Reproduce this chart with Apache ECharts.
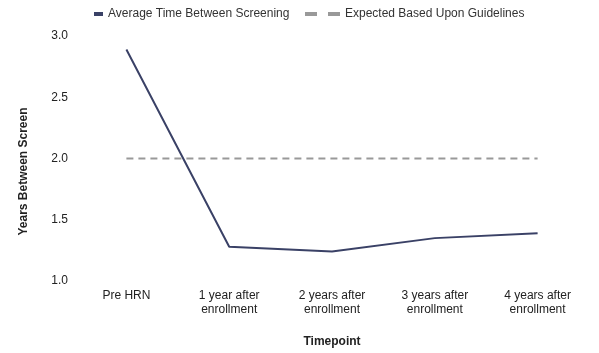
<!DOCTYPE html>
<html>
<head>
<meta charset="utf-8">
<script src="https://cdn.jsdelivr.net/npm/echarts@6/dist/echarts.min.js"></script>
<style>
html,body{margin:0;padding:0;background:#fff;}
#main{width:599px;height:353px;}
</style>
</head>
<body>
<div id="main"></div>
<script>
var categories = ['Pre HRN', '1 year after\nenrollment', '2 years after\nenrollment', '3 years after\nenrollment', '4 years after\nenrollment'];
var avgTime = [2.89, 1.28, 1.24, 1.35, 1.39];
var expected = [2.0, 2.0, 2.0, 2.0, 2.0];
var yTicks = [1.0, 1.5, 2.0, 2.5, 3.0];

var myChart = echarts.init(document.getElementById('main'));
var fontName = 'Liberation Sans';
var navy = '#3a4166';
var grey = '#999999';

var option = {
    animation: false,
    textStyle: {fontFamily: fontName},
    legend: [
        {
            top: 3,
            left: 89,
            itemWidth: 9,
            itemHeight: 4,
            icon: 'rect',
            textStyle: {fontFamily: fontName, fontSize: 12, color: '#333'},
            data: [{name: 'Average Time Between Screening', itemStyle: {color: navy}}]
        },
        {
            top: 3,
            left: 300,
            itemWidth: 35,
            itemHeight: 4,
            icon: 'path://M0,0H12V4H0Z M23,0H35V4H23Z',
            textStyle: {fontFamily: fontName, fontSize: 12, color: '#333'},
            data: [{name: 'Expected Based Upon Guidelines', itemStyle: {color: grey}}]
        }
    ],
    grid: {
        left: 75,
        right: 10,
        top: 36,
        bottom: 69
    },
    xAxis: {
        type: 'category',
        data: categories,
        boundaryGap: true,
        name: 'Timepoint',
        nameLocation: 'middle',
        nameGap: 55,
        nameTextStyle: {fontFamily: fontName, fontSize: 12, fontWeight: 'bold', color: '#222'},
        axisLine: {show: false},
        axisTick: {show: false},
        axisLabel: {fontFamily: fontName, fontSize: 12, color: '#222', margin: 8, lineHeight: 14, interval: 0}
    },
    yAxis: {
        type: 'value',
        min: yTicks[0],
        max: yTicks[yTicks.length - 1],
        interval: 0.5,
        name: 'Years Between Screen',
        nameLocation: 'middle',
        nameGap: 45,
        nameTextStyle: {fontFamily: fontName, fontSize: 12, fontWeight: 'bold', color: '#222', padding: [0, 26, 0, 0]},
        axisLine: {show: false},
        axisTick: {show: false},
        splitLine: {show: false},
        axisLabel: {
            fontFamily: fontName, fontSize: 12, color: '#222', margin: 7,
            formatter: function (v) { return v.toFixed(1); }
        }
    },
    series: [
        {
            name: 'Average Time Between Screening',
            type: 'line',
            data: avgTime,
            symbol: 'none',
            lineStyle: {color: navy, width: 2},
            itemStyle: {color: navy}
        },
        {
            name: 'Expected Based Upon Guidelines',
            type: 'line',
            data: expected,
            symbol: 'none',
            lineStyle: {color: grey, width: 2, type: [7, 5]},
            itemStyle: {color: grey}
        }
    ]
};
myChart.setOption(option);
</script>
</body>
</html>
